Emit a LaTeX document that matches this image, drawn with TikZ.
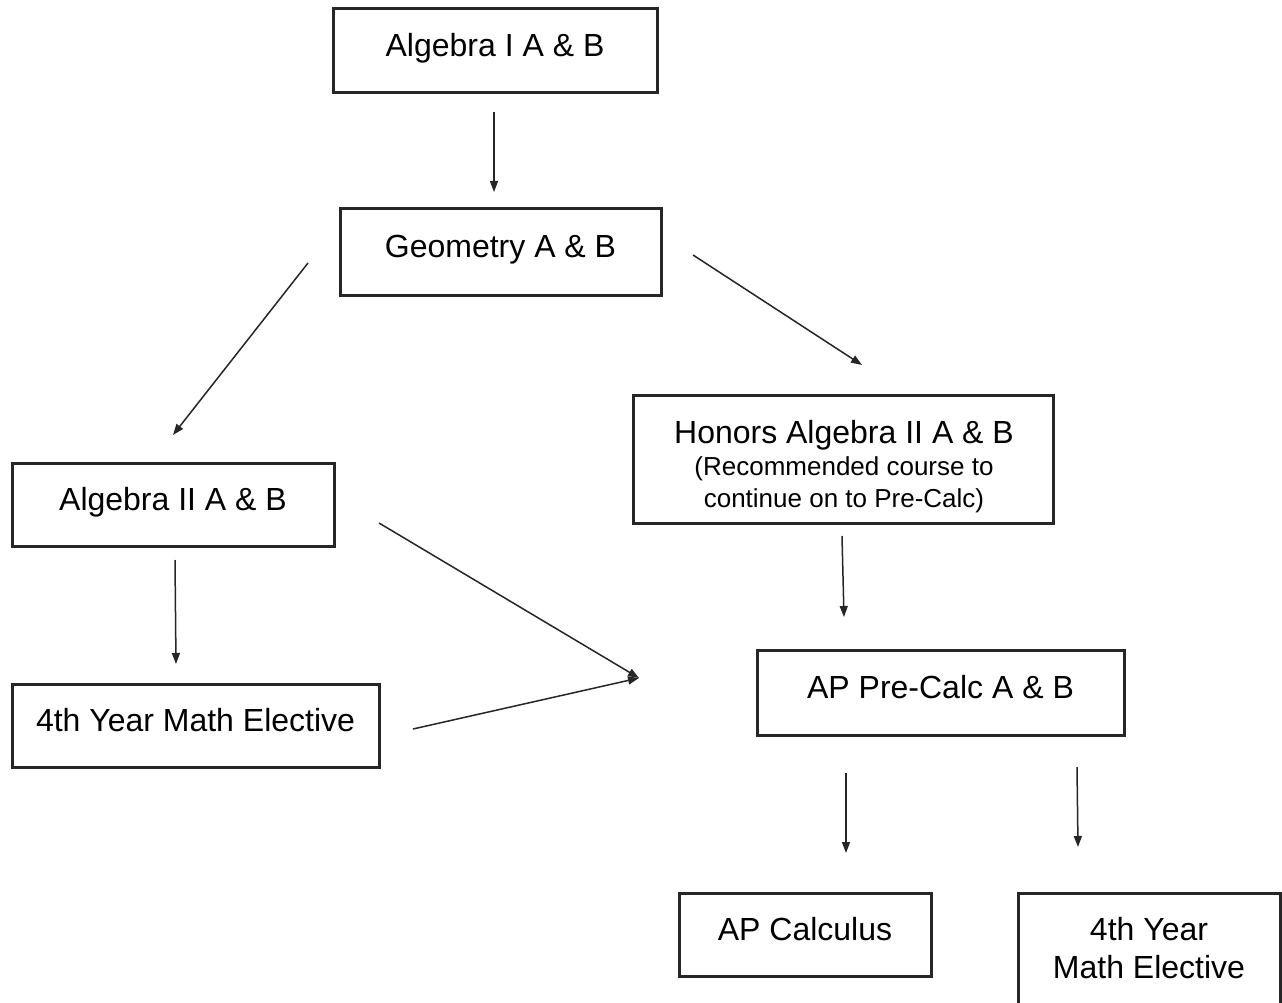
\documentclass[tikz,border=0pt]{standalone}
\usepackage{fontspec}
\setmainfont{Liberation Sans}
\usetikzlibrary{arrows.meta}
\tikzset{
  course/.style={draw=black!85, line width=3pt, rectangle, inner sep=0pt,
    font=\fontsize{32}{37}\selectfont, text height=23pt, text depth=12pt},
  emptybox/.style={draw=black!85, line width=3pt, rectangle, inner sep=0pt},
  linetext/.style={anchor=base, inner sep=0pt, font=\fontsize{32}{37}\selectfont},
  subtext/.style={anchor=base, inner sep=0pt, font=\fontsize{26}{30}\selectfont},
  flow/.style={draw=black!85, line width=1.5pt, -{Triangle[length=11pt,width=8pt]}}
}
\begin{document}
\begin{tikzpicture}[x=1pt,y=-1pt]
\clip (0,0) rectangle (1282,1003);
\fill[white] (0,0) rectangle (1282,1003);

% boxes
\node[course, minimum width=324pt, minimum height=84pt] (alg1) at (495,51) {Algebra I A \& B};
\node[course, minimum width=321pt, minimum height=86pt] (geo) at (500.5,252) {Geometry A \& B};
\node[emptybox, minimum width=420pt, minimum height=128pt] (hon) at (843,459) {};
\node[linetext] (hont1) at (844,443) {Honors Algebra II A \& B};
\node[subtext] (hont2) at (844,475) {(Recommended course to};
\node[subtext] (hont3) at (844,507) {continue on to Pre-Calc)};
\node[course, minimum width=322pt, minimum height=83pt] (alg2) at (173,504.5) {Algebra II A \& B};
\node[course, minimum width=367pt, minimum height=83pt] (elec1) at (195.5,725.5) {4th Year Math Elective};
\node[course, minimum width=367pt, minimum height=85pt] (pre) at (940.5,692.5) {AP Pre-Calc A \& B};
\node[course, minimum width=252pt, minimum height=83pt] (calc) at (805,934.5) {AP Calculus};
\node[emptybox, minimum width=262pt, minimum height=130pt] (elec2) at (1149,958) {};
\node[linetext] (elec2t1) at (1149,940) {4th Year};
\node[linetext] (elec2t2) at (1149,978) {Math Elective};

% arrow end points
\coordinate (a1s) at (494,112);  \coordinate (a1e) at (494,192);
\coordinate (a2s) at (308,263);  \coordinate (a2e) at (173,435);
\coordinate (a3s) at (693,255);  \coordinate (a3e) at (862,365);
\coordinate (a4s) at (175,560);  \coordinate (a4e) at (176,664);
\coordinate (a5s) at (379,523);  \coordinate (meet) at (639,678);
\coordinate (a6s) at (413,729);
\coordinate (a7s) at (842,536);  \coordinate (a7e) at (844,617);
\coordinate (a8s) at (846,773);  \coordinate (a8e) at (846,853);
\coordinate (a9s) at (1077,767); \coordinate (a9e) at (1078,847);

% connectors
\draw[flow] (a1s) -- (a1e);
\draw[flow] (a2s) -- (a2e);
\draw[flow] (a3s) -- (a3e);
\draw[flow] (a4s) -- (a4e);
\draw[flow] (a5s) -- (meet);
\draw[flow] (a6s) -- (meet);
\draw[flow] (a7s) -- (a7e);
\draw[flow] (a8s) -- (a8e);
\draw[flow] (a9s) -- (a9e);
\end{tikzpicture}
\end{document}
